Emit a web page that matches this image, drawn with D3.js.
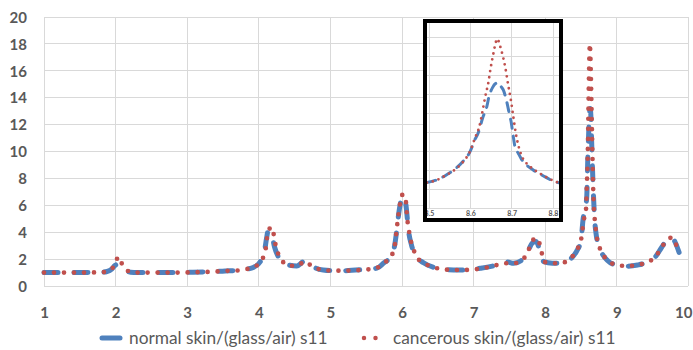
<!DOCTYPE html>
<html><head><meta charset="utf-8">
<script src="https://cdn.jsdelivr.net/npm/d3@7"></script>
<style>body{margin:0;background:#fff}svg{display:block}</style>
</head><body><svg id="c" width="693" height="350"></svg>
<script>
// ---- data (frequency, s11 value) ----
const normalS11 = [[1.00,1.00],[1.50,1.00],[1.80,1.02],[1.88,1.08],[1.95,1.28],[1.99,1.52],[2.03,1.62],[2.07,1.48],[2.10,1.32],[2.15,1.12],[2.21,1.03],[2.30,1.00],[2.80,1.00],[3.08,1.02],[3.34,1.06],[3.53,1.12],[3.67,1.14],[3.81,1.24],[3.93,1.40],[4.02,1.80],[4.08,2.60],[4.11,3.60],[4.13,4.10],[4.16,4.05],[4.19,3.60],[4.22,2.90],[4.27,2.20],[4.35,1.65],[4.53,1.49],[4.64,1.85],[4.72,1.55],[4.80,1.32],[4.90,1.19],[5.04,1.14],[5.19,1.14],[5.45,1.22],[5.65,1.33],[5.74,1.69],[5.85,2.25],[5.90,3.10],[5.93,4.30],[5.95,5.20],[5.98,6.20],[6.01,6.65],[6.04,6.50],[6.06,5.80],[6.08,4.70],[6.10,3.80],[6.13,3.10],[6.18,2.30],[6.30,1.73],[6.44,1.39],[6.58,1.24],[6.72,1.19],[6.86,1.19],[7.10,1.32],[7.28,1.50],[7.46,1.80],[7.56,1.69],[7.69,2.00],[7.76,2.60],[7.82,3.20],[7.87,3.30],[7.93,2.60],[7.98,1.81],[8.10,1.69],[8.24,1.73],[8.37,2.10],[8.44,2.60],[8.50,3.40],[8.53,5.00],[8.56,5.80],[8.58,6.60],[8.595,9.50],[8.605,11.0],[8.615,12.5],[8.628,13.2],[8.64,12.4],[8.65,10.5],[8.66,8.80],[8.67,7.30],[8.69,5.00],[8.71,3.90],[8.74,3.10],[8.79,2.45],[8.87,1.90],[9.00,1.55],[9.14,1.47],[9.29,1.56],[9.42,1.76],[9.54,2.18],[9.61,2.73],[9.70,3.42],[9.77,3.60],[9.82,3.20],[9.87,2.50]];
const cancerousS11 = [[1.00,1.00],[1.50,1.00],[1.80,1.02],[1.88,1.08],[1.95,1.30],[1.98,1.50],[2.01,1.90],[2.04,2.18],[2.07,1.90],[2.10,1.49],[2.15,1.20],[2.21,1.04],[2.30,1.00],[2.80,1.00],[3.08,1.02],[3.34,1.06],[3.53,1.12],[3.67,1.14],[3.81,1.24],[3.93,1.40],[4.02,1.80],[4.09,2.55],[4.11,3.40],[4.13,4.04],[4.18,4.38],[4.21,3.80],[4.24,2.90],[4.30,2.13],[4.39,1.56],[4.53,1.49],[4.65,1.83],[4.72,1.56],[4.80,1.32],[4.90,1.19],[5.04,1.14],[5.19,1.14],[5.45,1.20],[5.65,1.35],[5.74,1.69],[5.85,2.23],[5.90,3.05],[5.93,4.41],[5.95,5.28],[5.97,6.02],[6.00,6.77],[6.04,6.77],[6.06,5.95],[6.07,5.15],[6.09,4.41],[6.11,3.67],[6.15,2.92],[6.20,2.18],[6.30,1.73],[6.44,1.39],[6.58,1.24],[6.72,1.19],[6.86,1.19],[7.10,1.30],[7.28,1.49],[7.41,1.69],[7.56,1.69],[7.69,2.00],[7.76,2.55],[7.81,3.30],[7.88,3.55],[7.94,2.80],[7.98,1.81],[8.10,1.69],[8.24,1.73],[8.37,2.13],[8.44,2.68],[8.50,3.42],[8.52,4.16],[8.54,4.91],[8.57,5.70],[8.58,7.26],[8.59,8.87],[8.60,11.5],[8.605,13.6],[8.612,15.8],[8.618,17.3],[8.624,18.0],[8.632,17.0],[8.64,15.2],[8.648,13.0],[8.655,11.0],[8.663,9.00],[8.67,7.30],[8.68,5.80],[8.70,4.60],[8.71,4.00],[8.74,3.20],[8.79,2.48],[8.87,1.93],[9.00,1.56],[9.14,1.49],[9.29,1.56],[9.42,1.76],[9.54,2.18],[9.61,2.73],[9.70,3.42],[9.77,3.60],[9.82,3.17],[9.87,2.50]];
const insetNormal = [[8.495,2.68],[8.515,2.90],[8.539,3.40],[8.563,4.10],[8.582,4.90],[8.599,5.90],[8.611,7.20],[8.619,7.90],[8.630,9.50],[8.640,10.7],[8.645,11.7],[8.654,12.7],[8.661,13.1],[8.668,13.2],[8.674,12.8],[8.680,12.4],[8.688,11.2],[8.694,10.0],[8.699,9.00],[8.703,7.80],[8.708,6.45],[8.716,5.76],[8.723,5.20],[8.732,4.70],[8.752,4.00],[8.774,3.45],[8.800,2.85],[8.815,2.65]];
const insetCancerous = [[8.495,2.68],[8.515,2.87],[8.539,3.40],[8.565,4.11],[8.583,4.88],[8.599,5.93],[8.611,7.33],[8.622,8.60],[8.630,10.3],[8.636,11.7],[8.644,13.3],[8.649,14.7],[8.656,16.3],[8.662,17.5],[8.665,17.8],[8.668,17.6],[8.672,17.05],[8.678,16.1],[8.685,14.7],[8.691,13.1],[8.698,11.4],[8.704,9.60],[8.710,7.86],[8.717,6.45],[8.727,5.23],[8.740,4.53],[8.753,4.07],[8.775,3.47],[8.801,2.87],[8.815,2.63]];
const xTicks = [1,2,3,4,5,6,7,8,9,10];
const yTicks = [0,2,4,6,8,10,12,14,16,18,20];
const insetXTicks = [8.5,8.6,8.7,8.8];
const insetYTicks = [0,2,4,6,8,10,12,14,16,18,20];
const seriesNames = ["normal skin/(glass/air) s11","cancerous skin/(glass/air) s11"];

const BLUE = "#4f81bd", RED = "#c0504d", GRID = "#d9d9d9", TXT = "#595959";
const svg = d3.select("#c");

// ---- main chart ----
const x = d3.scaleLinear().domain([1,10]).range([44,688.4]);
const y = d3.scaleLinear().domain([0,20]).range([286,17]);

svg.append("g").selectAll("line").data(yTicks).join("line")
  .attr("x1",x(1)).attr("x2",x(10)).attr("y1",d=>y(d)).attr("y2",d=>y(d))
  .attr("stroke",GRID).attr("stroke-width",1).attr("shape-rendering","crispEdges");
svg.append("g").selectAll("line").data(xTicks).join("line")
  .attr("x1",d=>x(d)).attr("x2",d=>x(d)).attr("y1",y(0)).attr("y2",y(20))
  .attr("stroke",GRID).attr("stroke-width",1).attr("shape-rendering","crispEdges");

const yAxis = svg.append("g").attr("transform","translate(27,0)")
  .call(d3.axisLeft(y).tickValues(yTicks).tickSize(0).tickPadding(0));
yAxis.select(".domain").remove();
yAxis.selectAll("text").attr("font-family","Lato").attr("font-weight","bold")
  .attr("font-size","15px").attr("fill",TXT).attr("dy","0.35em");

const xAxis = svg.append("g").attr("transform","translate(0,307.5)")
  .call(d3.axisBottom(x).tickValues(xTicks).tickSize(0).tickPadding(0));
xAxis.select(".domain").remove();
xAxis.selectAll("text").attr("font-family","Lato").attr("font-weight","bold")
  .attr("font-size","15px").attr("fill",TXT);
// keep the last label inside the picture, as the reference does
xAxis.selectAll(".tick").filter(d=>d===10).select("text")
  .attr("text-anchor","end").attr("x",692-x(10));

const line = d3.line().x(d=>x(d[0])).y(d=>y(d[1])).curve(d3.curveMonotoneX);
svg.append("path").datum(normalS11).attr("d",line).attr("fill","none")
  .attr("stroke",BLUE).attr("stroke-width",5).attr("stroke-linecap","round")
  .attr("stroke-dasharray","14 16");
svg.append("path").datum(cancerousS11).attr("d",line).attr("fill","none")
  .attr("stroke",RED).attr("stroke-width",4.7).attr("stroke-linecap","round")
  .attr("stroke-dasharray","0 10");

// ---- legend ----
const lg = svg.append("g");
lg.append("line").attr("x1",102).attr("x2",120).attr("y1",338).attr("y2",338)
  .attr("stroke",BLUE).attr("stroke-width",5).attr("stroke-linecap","round");
lg.append("text").attr("x",129).attr("y",338).attr("dy","0.35em").text(seriesNames[0])
  .attr("font-family","Lato").attr("font-size","17.3px").attr("fill",TXT);
lg.append("line").attr("x1",364).attr("x2",387).attr("y1",338).attr("y2",338)
  .attr("stroke",RED).attr("stroke-width",4.5).attr("stroke-linecap","round")
  .attr("stroke-dasharray","0 11.5");
lg.append("text").attr("x",393).attr("y",338).attr("dy","0.35em").text(seriesNames[1])
  .attr("font-family","Lato").attr("font-size","17.3px").attr("fill",TXT);

// ---- inset ----
const ix = d3.scaleLinear().domain([8.5,8.8]).range([429,553]);
const iy = d3.scaleLinear().domain([0,20]).range([208,18]);
svg.append("defs").append("clipPath").attr("id","ic").append("rect")
  .attr("x",427).attr("y",23).attr("width",132).attr("height",195);
svg.append("rect").attr("x",425).attr("y",21).attr("width",136).attr("height",199).attr("fill","#fff");
const ig = svg.append("g").attr("clip-path","url(#ic)");
ig.append("g").selectAll("line").data(insetYTicks).join("line")
  .attr("x1",427).attr("x2",559).attr("y1",d=>iy(d)).attr("y2",d=>iy(d))
  .attr("stroke",GRID).attr("stroke-width",1).attr("shape-rendering","crispEdges");
ig.append("g").selectAll("line").data(insetXTicks).join("line")
  .attr("x1",d=>ix(d)).attr("x2",d=>ix(d)).attr("y1",iy(0)).attr("y2",iy(20))
  .attr("stroke",GRID).attr("stroke-width",1).attr("shape-rendering","crispEdges");
const ixAxis = ig.append("g").attr("transform","translate(0,211)")
  .call(d3.axisBottom(ix).tickValues(insetXTicks).tickFormat(d3.format(".1f")).tickSize(0).tickPadding(0));
ixAxis.select(".domain").remove();
ixAxis.selectAll("text").attr("font-family","Lato").attr("font-weight","bold")
  .attr("font-size","7px").attr("fill",TXT);
const iline = d3.line().x(d=>ix(d[0])).y(d=>iy(d[1])).curve(d3.curveMonotoneX);
ig.append("path").datum(insetNormal).attr("d",iline).attr("fill","none")
  .attr("stroke",BLUE).attr("stroke-width",3).attr("stroke-linecap","round")
  .attr("stroke-dasharray","9 8");
ig.append("path").datum(insetCancerous).attr("d",iline).attr("fill","none")
  .attr("stroke",RED).attr("stroke-width",2.8).attr("stroke-linecap","round")
  .attr("stroke-dasharray","0 6");
svg.append("rect").attr("x",425).attr("y",21).attr("width",136).attr("height",199)
  .attr("fill","none").attr("stroke","#000").attr("stroke-width",4);
</script></body></html>
